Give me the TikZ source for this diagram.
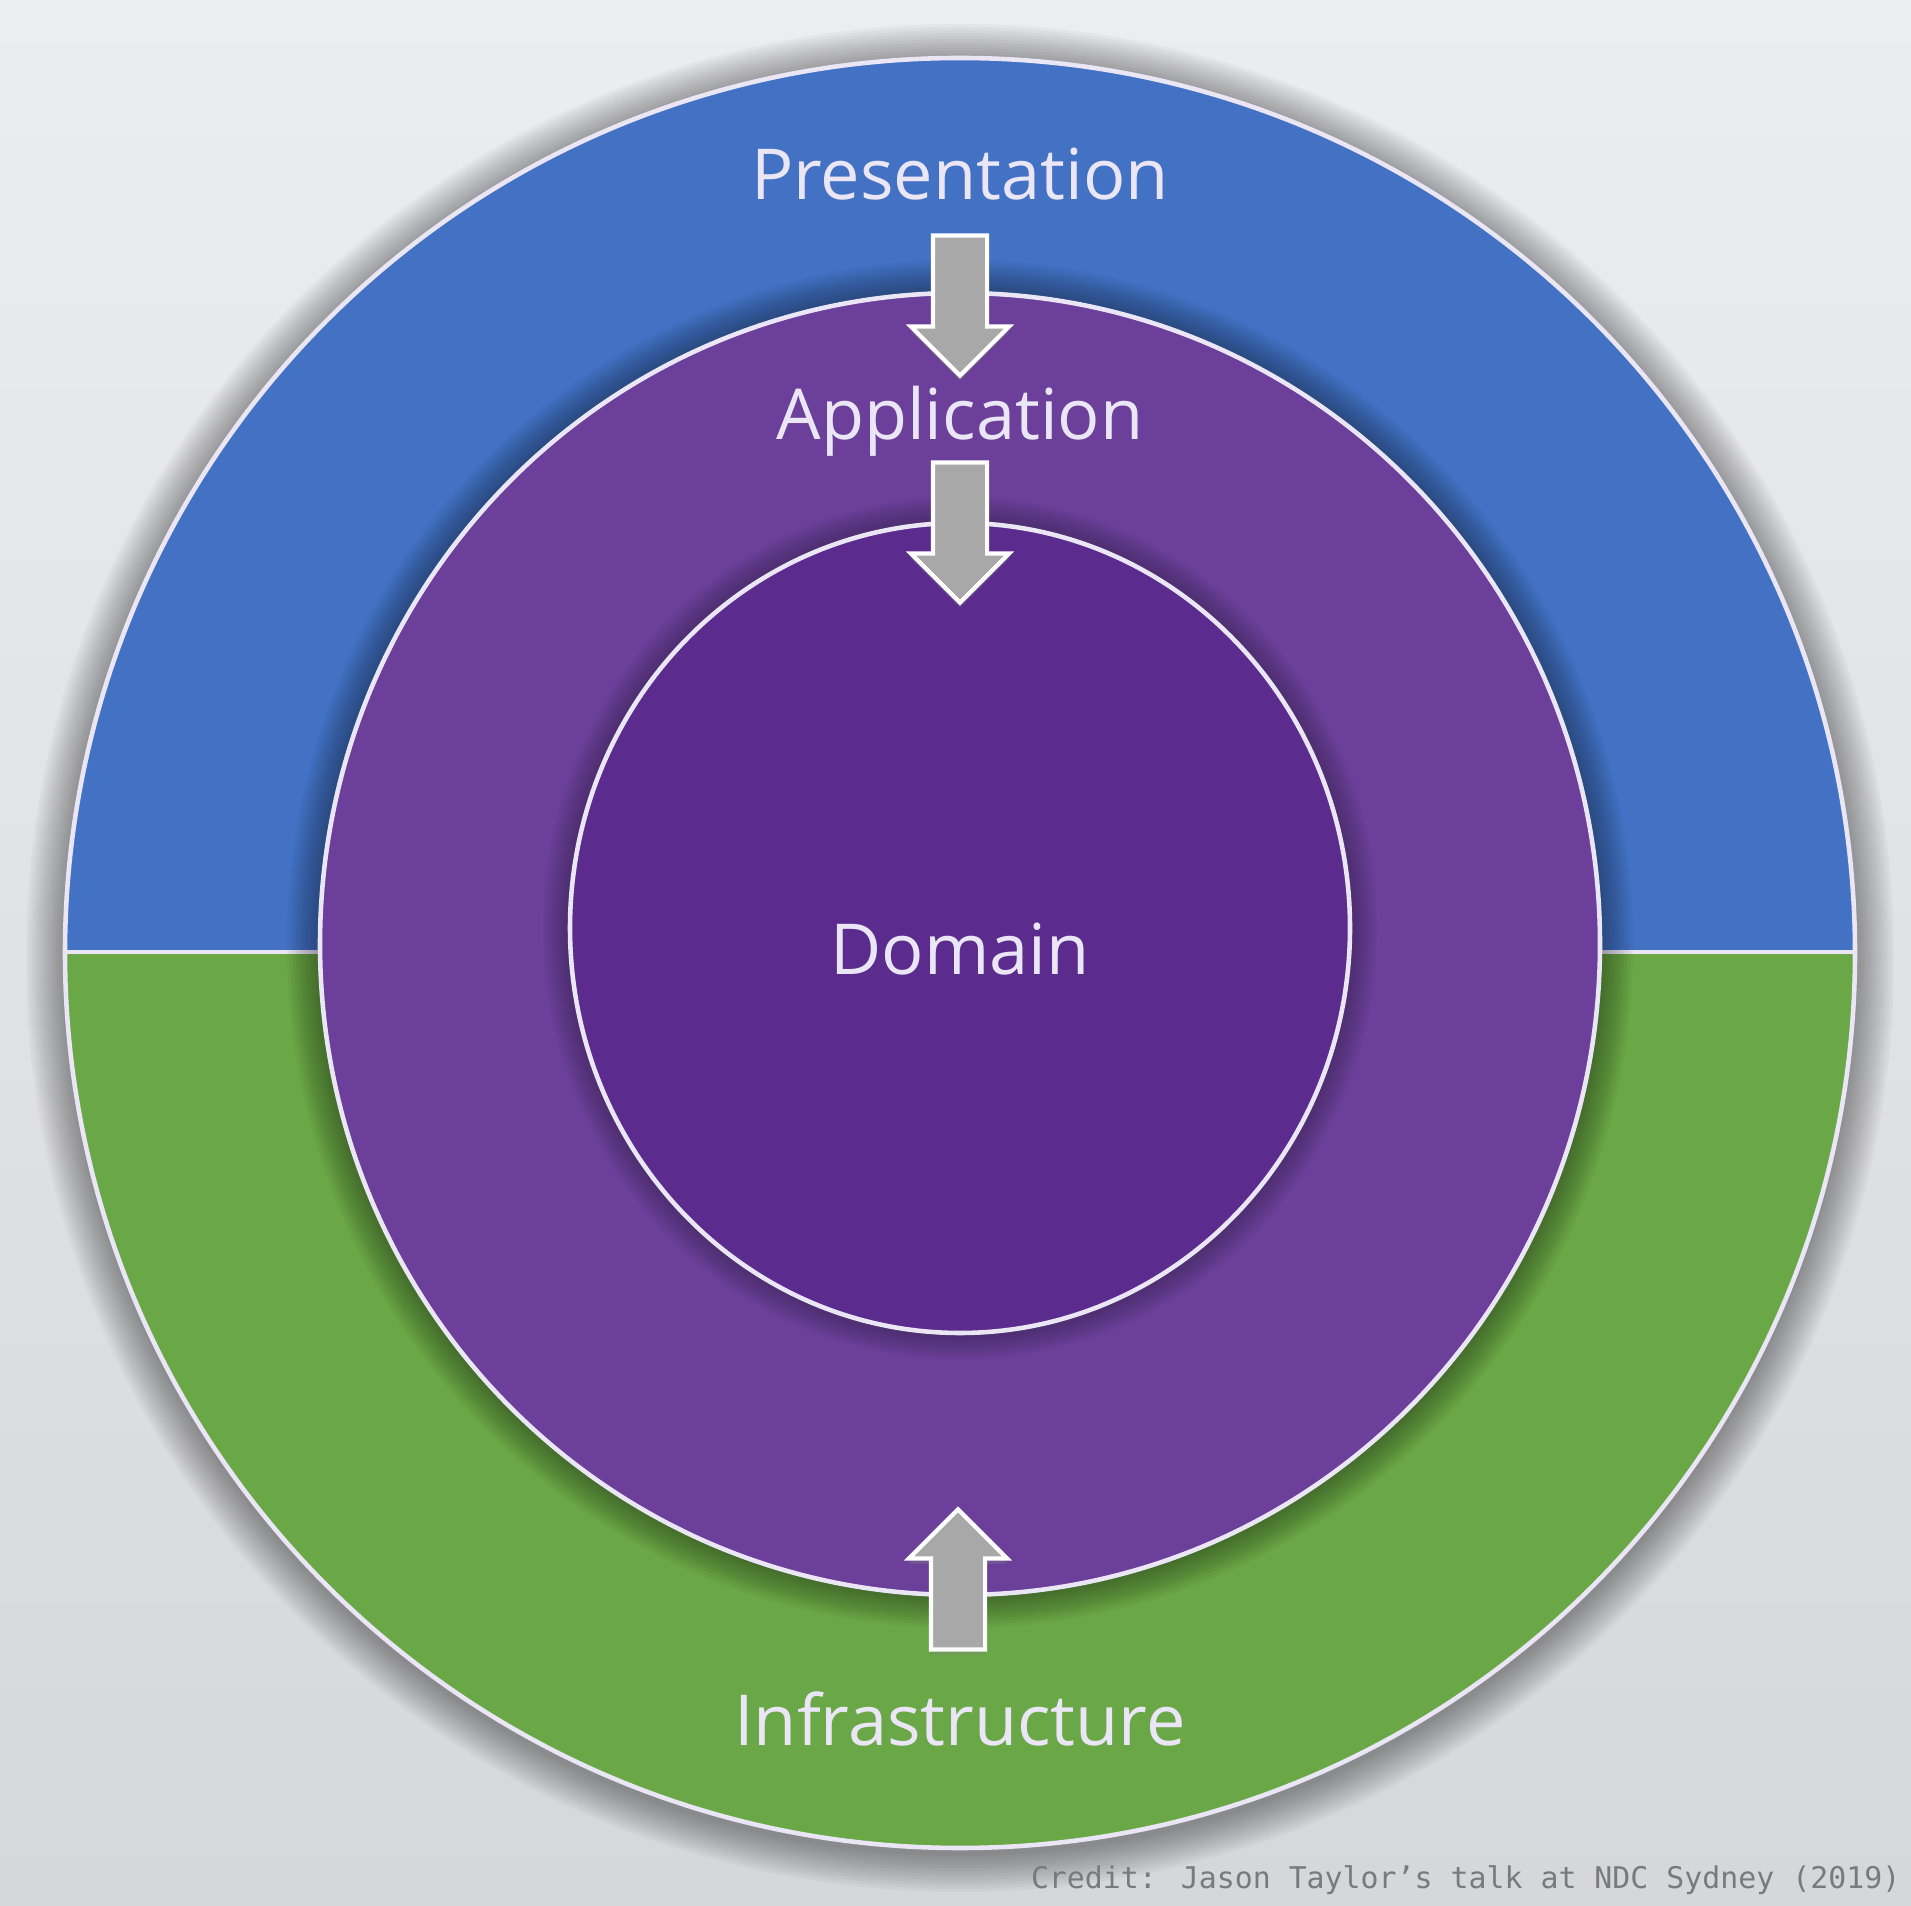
\documentclass[tikz,border=0pt]{standalone}
\usepackage{fontspec}
\setmainfont{Open Sans}
\newfontfamily\creditfont{DejaVu Sans Mono}
\usepackage{tikz}
\usetikzlibrary{shapes.arrows,shadows,positioning}
\definecolor{bgtop}{RGB}{236,237,241}
\definecolor{bgbot}{RGB}{214,215,218}
\definecolor{presblue}{RGB}{67,114,196}
\definecolor{infragreen}{RGB}{106,167,70}
\definecolor{apppurple}{RGB}{108,64,154}
\definecolor{dompurple}{RGB}{92,43,142}
\definecolor{rimwhite}{RGB}{234,230,246}
\definecolor{arrowgray}{RGB}{168,168,168}
\definecolor{creditgray}{RGB}{122,122,122}

\begin{document}
\begin{tikzpicture}[layer/.style={font=\fontsize{20}{20}\selectfont, text=rimwhite, inner sep=0pt, anchor=base}, dep/.style={single arrow, draw=white, line width=1.2pt, fill=arrowgray, minimum height=1.40cm, minimum width=0.96cm, single arrow head extend=0.22cm, single arrow head indent=0pt, inner sep=0.25cm, drop shadow={opacity=0.35, shadow xshift=0pt, shadow yshift=-0.05cm}}, rim/.style={draw=rimwhite, line width=1.3pt}
]
  \useasboundingbox (0,0) rectangle (19.11,19.05);
  \shade[top color=bgtop, bottom color=bgbot] (0,0) rectangle (19.11,19.05);
  % soft shadow round the outer ring
  \foreach \d in {0.03,0.06,...,0.39}
    \fill[black, opacity=0.03] (9.60,9.47) circle [radius={8.95+\d}];
  \begin{scope}
    \clip (9.60,9.52) circle [radius=8.95];
    \fill[presblue] (0,9.53) rectangle (19.11,19.05);
    \fill[infragreen] (0,0) rectangle (19.11,9.53);
    \draw[rimwhite, line width=1.2pt] (0,9.53) -- (19.11,9.53);
    \foreach \d in {0.03,0.06,...,0.33}
      \fill[black, opacity=0.035] (9.60,9.61) ellipse [x radius={6.40+\d}, y radius={6.51+\d}];
  \end{scope}
  \draw[rim] (9.60,9.52) circle [radius=8.95];
  \fill[apppurple] (9.60,9.61) ellipse [x radius=6.40, y radius=6.51];
  \foreach \d in {0.03,0.06,...,0.27}
    \fill[black, opacity=0.03] (9.60,9.77) ellipse [x radius={3.90+\d}, y radius={4.05+\d}];
  \fill[dompurple] (9.60,9.77) ellipse [x radius=3.90, y radius=4.05];
  \draw[rim] (9.60,9.61) ellipse [x radius=6.40, y radius=6.51];
  \draw[rim] (9.60,9.77) ellipse [x radius=3.90, y radius=4.05];

  \node[layer] (pres) at (9.60,17.05) {Presentation};
  \node[layer] (app) at (9.60,14.65) {Application};
  \node[layer] (dom) at (9.60,9.30) {Domain};
  \node[layer] (infra) at (9.60,1.60) {Infrastructure};

  \node[dep, shape border rotate=270] (presdep) at (9.60,16.13) {};
  \node[dep, shape border rotate=270] (appdep) at (9.60,13.86) {};
  \node[dep, shape border rotate=90] (infradep) at (9.58,3.12) {};

  \node[font=\creditfont\fontsize{8.5}{8.5}\selectfont, text=creditgray, anchor=base east, inner sep=0pt] (credit) at (19.01,0.17) {Credit: Jason Taylor’s talk at NDC Sydney (2019)};
\end{tikzpicture}
\end{document}
